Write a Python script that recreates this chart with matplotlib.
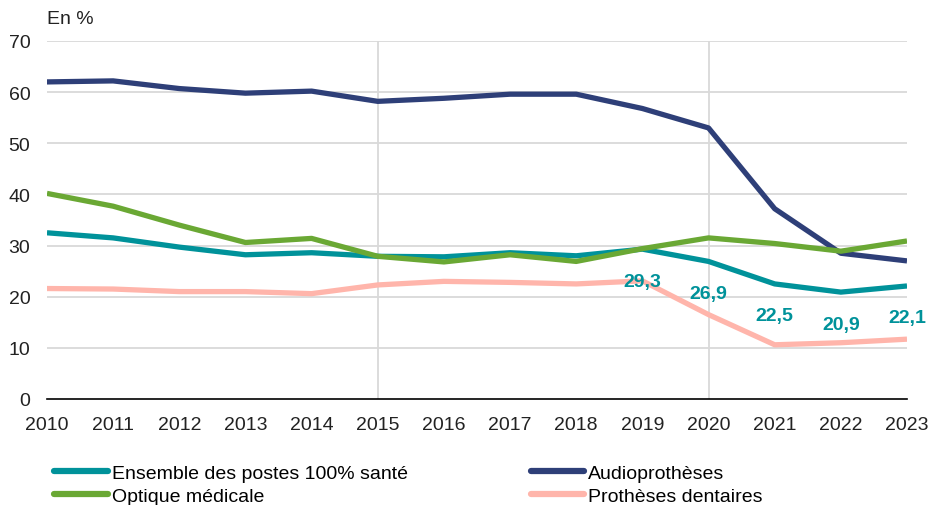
import matplotlib
matplotlib.use("Agg")
import matplotlib.pyplot as plt

plt.rcParams['font.family'] = ['Liberation Sans', 'DejaVu Sans']

years = list(range(2010, 2024))
ensemble = [32.5, 31.5, 29.7, 28.2, 28.6, 27.9, 27.8, 28.6, 28.0, 29.3, 26.9, 22.5, 20.9, 22.1]
audio = [62.0, 62.2, 60.7, 59.8, 60.2, 58.2, 58.8, 59.6, 59.6, 56.8, 53.0, 37.2, 28.5, 27.0]
optique = [40.2, 37.7, 34.0, 30.6, 31.4, 27.9, 26.8, 28.2, 26.9, 29.4, 31.5, 30.4, 28.9, 30.9]
dentaires = [21.6, 21.5, 21.0, 21.0, 20.6, 22.3, 23.0, 22.8, 22.5, 23.1, 16.5, 10.6, 11.0, 11.7]
label_years = [2019, 2020, 2021, 2022, 2023]
label_texts = ["29,3", "26,9", "22,5", "20,9", "22,1"]

c_ens = "#00929A"
c_aud = "#2E3F78"
c_opt = "#6AA834"
c_den = "#FFB5AB"

fig = plt.figure(figsize=(9.34, 5.06), dpi=100)
ax = fig.add_axes([0.0503, 0.2095, 0.9208, 0.7075])

lw = 3.8
l_den, = ax.plot(years, dentaires, color=c_den, lw=lw, label="Prothèses dentaires", zorder=3, solid_capstyle='butt')
l_aud, = ax.plot(years, audio, color=c_aud, lw=lw, label="Audioprothèses", zorder=4, solid_capstyle='butt')
l_ens, = ax.plot(years, ensemble, color=c_ens, lw=lw, label="Ensemble des postes 100% santé", zorder=5, solid_capstyle='butt')
l_opt, = ax.plot(years, optique, color=c_opt, lw=lw, label="Optique médicale", zorder=6, solid_capstyle='butt')

for yr, txt in zip(label_years, label_texts):
    v = ensemble[years.index(yr)]
    ax.annotate(txt, (yr, v), xytext=(0, -23), textcoords="offset points",
                ha="center", va="center", color=c_ens, fontsize=14, fontweight="bold", zorder=7)

ax.set_xlim(2010, 2023)
ax.set_ylim(0, 70)
ax.set_yticks(range(0, 71, 10))
ax.set_xticks(years)
ax.tick_params(axis='both', length=0, labelsize=14, colors="#222222")
ax.tick_params(axis='x', pad=12)
ax.tick_params(axis='y', pad=12)
for yv in range(10, 71, 10):
    ax.axhline(yv, color="#D9D9D9", lw=1.3, zorder=1)
for xv in [2015, 2020]:
    ax.axvline(xv, color="#D9D9D9", lw=1.3, zorder=1)
for s in ["top", "right", "left"]:
    ax.spines[s].set_visible(False)
ax.spines["bottom"].set_color("#000000")
ax.spines["bottom"].set_linewidth(1.2)
ax.spines["bottom"].set_zorder(8)

fig.text(0.050, 0.962, "En %", fontsize=14, ha="left", va="center", color="#222222")

leg = fig.legend(handles=[l_ens, l_opt, l_aud, l_den], loc="upper left",
                 bbox_to_anchor=(0.058, 0.080), ncol=2, frameon=False,
                 fontsize=14, handlelength=2.75, handletextpad=0.2,
                 columnspacing=6.35, labelspacing=0.27, borderaxespad=0, borderpad=0)
for h in leg.get_lines():
    h.set_linewidth(4.5)
    h.set_solid_capstyle('round')

fig.savefig("out.png", dpi=100)
